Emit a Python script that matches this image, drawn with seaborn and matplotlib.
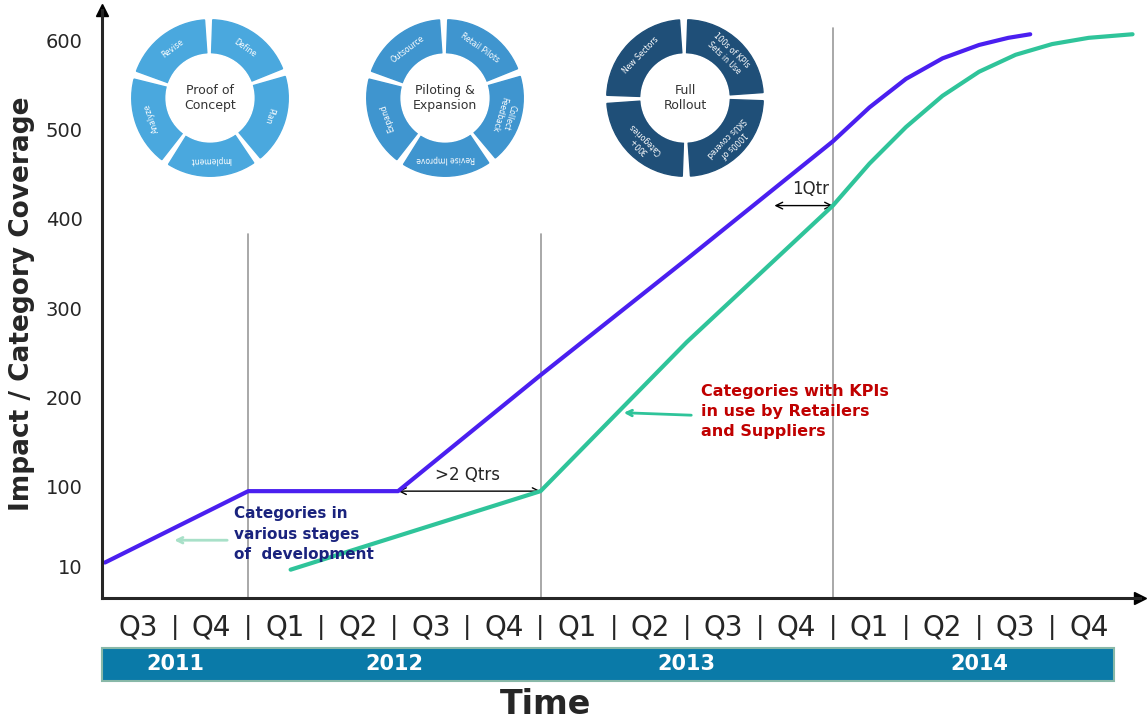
import numpy as np
import pandas as pd
import seaborn as sns
import matplotlib.pyplot as plt
from matplotlib.patches import Wedge, Rectangle, FancyArrowPatch
from matplotlib.transforms import blended_transform_factory

sns.set_style("white")
plt.rcParams['font.family'] = ['DejaVu Sans']

# data (x in quarters since Q3 2011)
purple_x = [0.04, 2.0, 4.05, 6.0, 8.0, 10.0, 10.5, 11.0, 11.5, 12.0, 12.4, 12.7]
purple_y = [15, 95, 95, 225, 355, 487, 525, 557, 580, 595, 603, 607]
green_x = [2.58, 6.0, 8.0, 10.0, 10.5, 11.0, 11.5, 12.0, 12.5, 13.0, 13.5, 14.1]
green_y = [7, 95, 262, 415, 462, 503, 538, 565, 584, 596, 603, 607]
quarters = ["Q3", "Q4", "Q1", "Q2", "Q3", "Q4", "Q1", "Q2", "Q3", "Q4", "Q1", "Q2", "Q3", "Q4"]
years = ["2011", "2012", "2013", "2014"]
year_centers = [1.0, 4.0, 8.0, 12.0]
y_ticks = [10, 100, 200, 300, 400, 500, 600]
phase_lines = [2, 6, 10]
phase_tops = [0.62, 0.62, 0.97]
circles = [
    ("Proof of\nConcept", ["Define", "Plan", "Implement", "Analyze", "Revise"], "#4aa8de"),
    ("Piloting &\nExpansion", ["Retail Pilots", "Collect\nFeedback", "Revise Improve", "Expand", "Outsource"], "#3f95cf"),
    ("Full\nRollout", ["100s of KPIs\nSets in Use", "1000s of\nSKUs covered", "300+\nCategories", "New Sectors"], "#1f4f78"),
]

fig = plt.figure(figsize=(11.48, 7.26), dpi=100)
ax = fig.add_axes([0.0889, 0.176, 0.904, 0.81])
ax.set_xlim(0, 14.2)
ax.set_ylim(-25, 634)

for v, top in zip(phase_lines, phase_tops):
    ax.axvline(v, ymin=0, ymax=top, color="#999999", lw=1.2, zorder=0)

sns.lineplot(x=purple_x, y=purple_y, ax=ax, color="#4a1ff0", lw=3)
sns.lineplot(x=green_x, y=green_y, ax=ax, color="#2fc49a", lw=3)

for s in ["top", "right"]:
    ax.spines[s].set_visible(False)
for s in ["left", "bottom"]:
    ax.spines[s].set_linewidth(2.2)
ax.plot(0, 1, "^k", ms=9, transform=ax.transAxes, clip_on=False)
ax.plot(1, 0, ">k", ms=9, transform=ax.transAxes, clip_on=False)
ax.set_yticks(y_ticks)
ax.set_yticklabels([str(t) for t in y_ticks], fontsize=14)
ax.set_xticks([])
ax.tick_params(length=0, pad=14)
ax.set_ylabel("Impact / Category Coverage", fontsize=19, fontweight="bold", labelpad=8)

# quarter labels and year band
tr = blended_transform_factory(ax.transData, ax.transAxes)
for i, q in enumerate(quarters):
    ax.text(i + 0.5, -0.05, q, transform=tr, ha="center", va="center", fontsize=20)
    if i > 0:
        ax.text(i, -0.05, "|", transform=tr, ha="center", va="center", fontsize=18)
ax.add_patch(Rectangle((0, -0.14), 13.85, 0.055, transform=tr, color="#0a7aa8",
                       ec="#88b8a8", lw=1.5, clip_on=False))
for yr, c in zip(years, year_centers):
    ax.text(c, -0.112, yr, transform=tr, ha="center", va="center", fontsize=15,
            fontweight="bold", color="white")
fig.text(0.475, 0.03, "Time", ha="center", va="center", fontsize=24, fontweight="bold")

# annotations
ax.add_patch(FancyArrowPatch((4.05, 95), (6.0, 95), arrowstyle="<->", mutation_scale=12,
                             lw=1, color="black", shrinkA=0, shrinkB=0))
ax.text(5.0, 103, ">2 Qtrs", ha="center", va="bottom", fontsize=12)
ax.add_patch(FancyArrowPatch((9.2, 415), (10.0, 415), arrowstyle="<->", mutation_scale=12,
                             lw=1, color="black", shrinkA=0, shrinkB=0))
ax.text(9.7, 423, "1Qtr", ha="center", va="bottom", fontsize=12)
ax.annotate("", xy=(7.1, 183), xytext=(8.1, 180),
            arrowprops=dict(arrowstyle="->", color="#2fc49a", lw=2))
ax.text(8.2, 215, "Categories with KPIs\nin use by Retailers\nand Suppliers", ha="left", va="top",
        fontsize=11.5, fontweight="bold", color="#c00000", linespacing=1.4)
ax.annotate("", xy=(0.95, 40), xytext=(1.75, 40),
            arrowprops=dict(arrowstyle="->", color="#a8e0c8", lw=2))
ax.text(1.8, 78, "Categories in\nvarious stages\nof  development", ha="left", va="top",
        fontsize=11, fontweight="bold", color="#1a237e", linespacing=1.45)

# process circles
for k, (title, segs, col) in enumerate(circles):
    cx = [210, 445, 685][k] / 1148
    cy = 1 - 98 / 726
    cax = fig.add_axes([cx - 0.07, cy - 0.11, 0.14, 0.22])
    cax.set_xlim(-1, 1)
    cax.set_ylim(-1, 1)
    cax.set_aspect("equal")
    cax.axis("off")
    n = len(segs)
    step = 360 / n
    for j, s in enumerate(segs):
        a0 = 90 - (j + 1) * step + 4
        cax.add_patch(Wedge((0, 0), 0.98, a0, a0 + step - 6, width=0.42, color=col))
        mid = np.deg2rad(a0 + (step - 6) / 2)
        cax.text(0.77 * np.cos(mid), 0.77 * np.sin(mid), s, ha="center", va="center",
                 fontsize=5.5, color="white", rotation=np.rad2deg(mid) - 90)
    cax.add_patch(Wedge((0, 0), 0.55, 0, 360, color="white"))
    cax.text(0, 0, title, ha="center", va="center", fontsize=9, color="#333333")

fig.savefig("out.png", dpi=100)
